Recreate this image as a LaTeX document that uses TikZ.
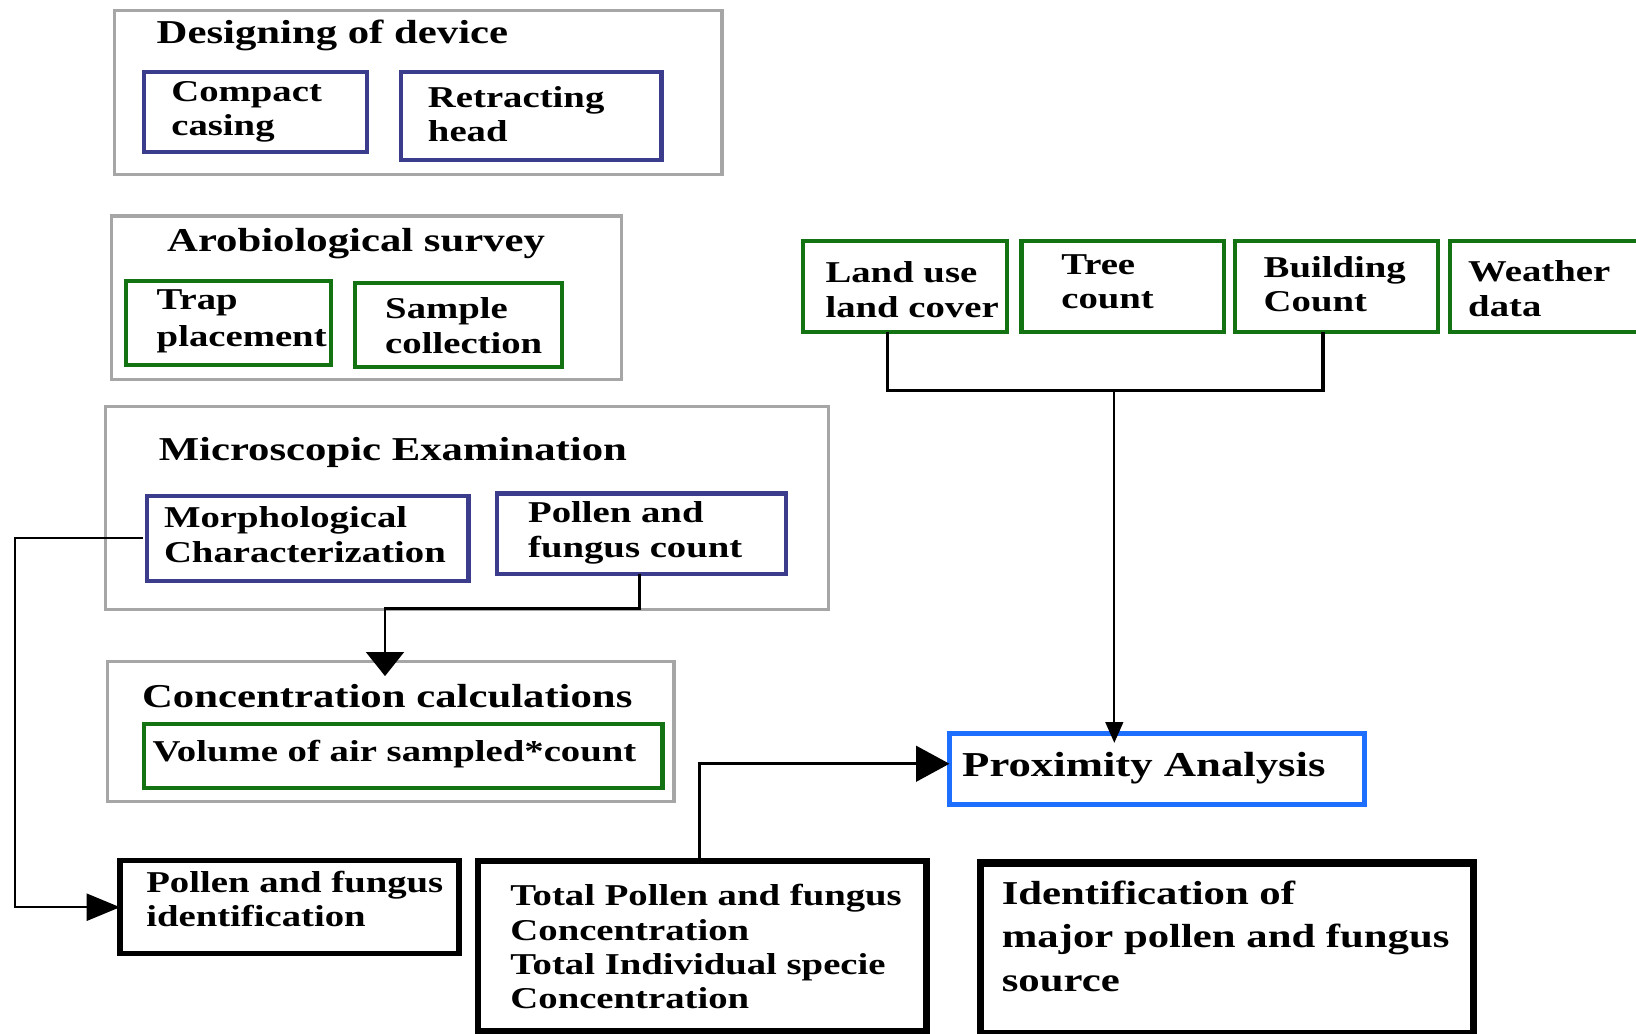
\documentclass[tikz,border=0pt]{standalone}
\usepackage{fontspec}
\setmainfont{Liberation Serif}[FakeStretch=1.28]
\usetikzlibrary{arrows.meta}
\definecolor{outergray}{HTML}{A6A6A6}
\definecolor{navy}{HTML}{3C3C8C}
\definecolor{dkgreen}{HTML}{137313}
\definecolor{brightblue}{HTML}{1E6EFF}
\newcommand\mybox[6]{\node[#1, anchor=north west, minimum width={(#5)-(#3)}, minimum height={(#6)-(#4)}] (#2) at (#3,#4) {};}
\tikzset{
  boxbase/.style={rectangle, inner sep=0pt, outer sep=0pt},
  frame/.style={boxbase, draw=outergray, line width=3pt},
  bluebox/.style={boxbase, draw=navy, line width=4pt},
  greenbox/.style={boxbase, draw=dkgreen, line width=4pt},
  blackbox/.style={boxbase, draw=black, line width=5pt},
  proxbox/.style={boxbase, draw=brightblue, line width=4.5pt},
  title/.style={anchor=base west, inner sep=0pt, font=\fontsize{32}{41.5}\selectfont\bfseries, align=left},
  lbl/.style={anchor=base west, inner sep=0pt, font=\fontsize{29}{33}\selectfont\bfseries, align=left},
  conn/.style={draw=black, line width=2.8pt},
}
\begin{document}
\begin{tikzpicture}[x=1pt, y=-1pt]
\useasboundingbox (0,0) rectangle (1568,991);
% Designing of device
\mybox{frame}{design}{110}{10}{692}{167}
\node[title] (tdesign) at (150,42) {Designing of device};
\mybox{bluebox}{compact}{138}{69}{352}{146}
\node[lbl] (tcompact) at (164,130) {Compact\\casing};
\mybox{bluebox}{retract}{384}{69}{634}{153}
\node[lbl] (tretract) at (410,136) {Retracting\\head};
% Arobiological survey
\mybox{frame}{survey}{107}{207}{596}{364}
\node[title] (tsurvey) at (160,241) {Arobiological survey};
\mybox{greenbox}{trap}{121}{269}{317}{350}
\node[lbl, font=\fontsize{29}{35}\selectfont\bfseries] (ttrap) at (150,332) {Trap\\placement};
\mybox{greenbox}{sample}{340}{271}{539}{352}
\node[lbl, font=\fontsize{29}{34}\selectfont\bfseries] (tsample) at (369,339) {Sample\\collection};
% Microscopic Examination
\mybox{frame}{micro}{101}{390}{794}{584}
\node[title] (tmicro) at (152,441) {Microscopic Examination};
\mybox{bluebox}{morph}{141}{475}{449}{557}
\node[lbl] (tmorph) at (157,539) {Morphological\\Characterization};
\mybox{bluebox}{pfc}{476}{473}{753}{550}
\node[lbl] (tpfc) at (506,534) {Pollen and\\fungus count};
% Concentration calculations
\mybox{frame}{conc}{103}{634}{646}{768}
\node[title] (tconc) at (136,678) {Concentration calculations};
\mybox{greenbox}{vol}{138}{694}{635}{755}
\node[lbl] (tvol) at (146,730) {Volume of air sampled*count};
% Bottom row
\mybox{blackbox}{pid}{115}{825}{440}{914}
\node[lbl] (tpid) at (140,888) {Pollen and fungus\\identification};
\mybox{blackbox, line width=6pt}{tot}{458}{825}{888}{988}
\node[lbl] (ttot) at (489,967) {Total Pollen and fungus\\Concentration\\Total Individual specie\\Concentration};
\mybox{blackbox, line width=7pt}{ident}{940}{827}{1412}{991}
\node[title] (tident) at (960,950) {Identification of\\major pollen and fungus\\source};
% Proximity
\mybox{proxbox}{prox}{910}{703}{1308}{771}
\node[title, font=\fontsize{33.5}{40}\selectfont\bfseries] (tprox) at (922,744) {Proximity Analysis};
% Top right data boxes
\mybox{greenbox}{land}{770}{231}{965}{318}
\node[lbl] (tland) at (791,304) {Land use\\land cover};
\mybox{greenbox}{tree}{979}{231}{1173}{318}
\node[lbl] (ttree) at (1017,296) {Tree\\count};
\mybox{greenbox}{build}{1184}{231}{1378}{318}
\node[lbl] (tbuild) at (1211,299) {Building\\Count};
\mybox{greenbox}{weather}{1390}{231}{1580}{318}
\node[lbl] (tweather) at (1407,303) {Weather\\data};
% Connectors
\coordinate (bend1) at (369,583);
\coordinate (tip1) at (369,648);
\draw[conn, -{Triangle[length=23pt,width=36pt]}] ([xshift=-2pt]pfc.south) |- (bend1) -- (tip1);
\coordinate (lx) at (14,514);
\draw[conn, line width=2pt, -{Triangle[length=32pt,width=26pt]}] ([xshift=-4pt]morph.west) -- (morph.west -| lx) |- (pid.west);
\draw[conn, -{Triangle[length=32pt,width=34pt]}] ([xshift=-3pt]tot.north) |- ([yshift=5pt]prox.west);
\coordinate (jn) at (1068,374);
\draw[conn, line width=3pt] ([xshift=-17pt]land.south) |- (jn) -| ([xshift=-13pt]build.south);
\coordinate (tip2) at (1068,712);
\draw[conn, line width=2pt, -{Triangle[length=20pt,width=17pt]}] (jn) -- (tip2);
\end{tikzpicture}
\end{document}
